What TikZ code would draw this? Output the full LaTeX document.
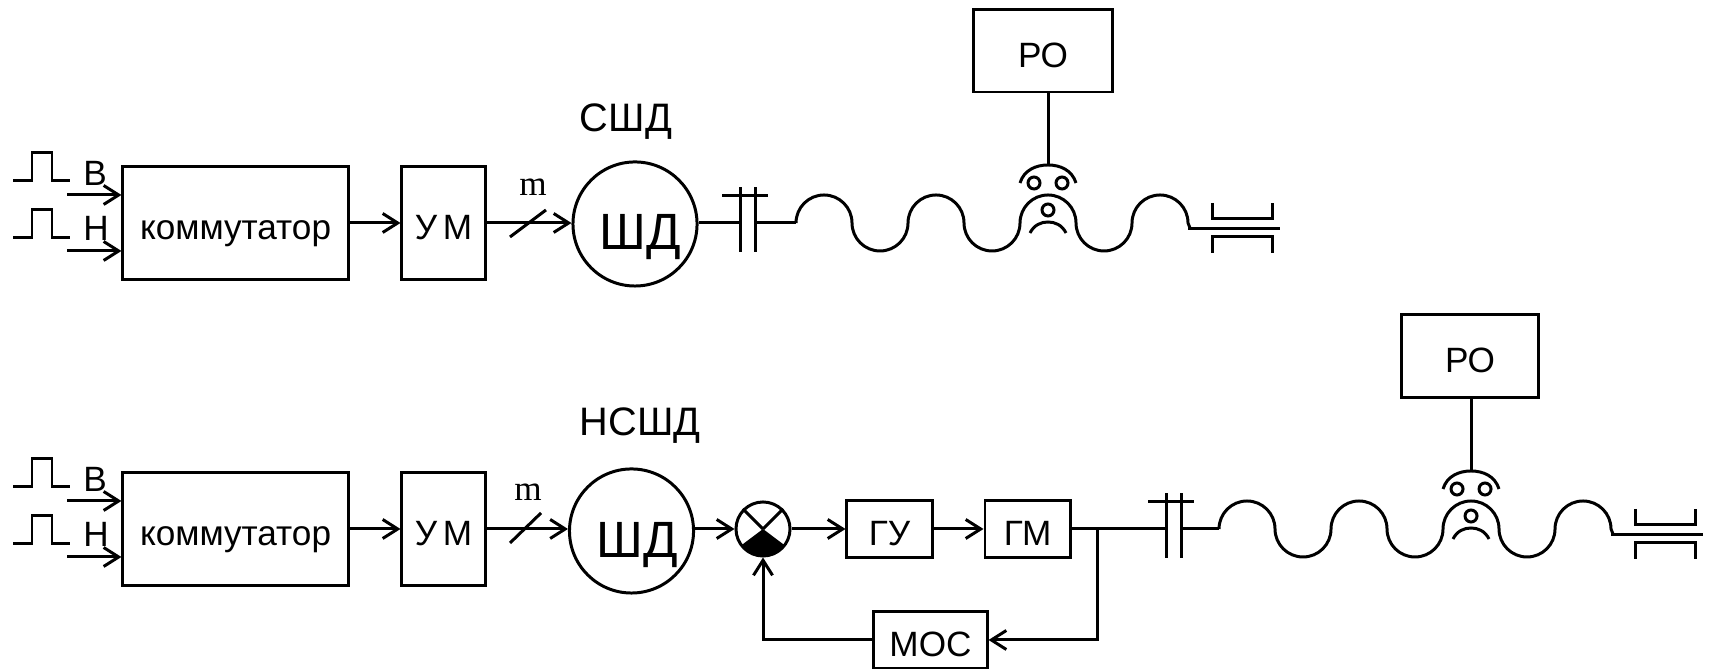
\documentclass[tikz,border=0pt]{standalone}
\usepackage{fontspec}
\setmainfont{Liberation Sans}
\newfontfamily\seriffont{Liberation Serif}
\usepackage{tikz}
\usetikzlibrary{arrows.meta, calc}

\begin{document}
\begin{tikzpicture}[x=0.01cm, y=0.01cm, line width=0.85pt,
      block/.style={rectangle, draw, inner sep=0pt, minimum width=#1, text height=0.33cm, text depth=0pt},
      tall/.style={block=#1, minimum height=1.12cm},
      small/.style={block=#1, minimum height=0.57cm},
      motor/.style={circle, draw, inner sep=0pt, minimum size=1.24cm, text height=0.52cm, text depth=0pt,
        font=\fontsize{14.5}{18}\selectfont},
      head/.style={font=\fontsize{11.3}{14}\selectfont},
      arr/.style={-{Straight Barb[length=1.5mm, width=1.9mm, line width=0.85pt]}},
      pulse/.pic={\draw (0,0) -- (19,0) -- (19,28) -- (39,28) -- (39,0) -- (57,0);},
      clutch/.pic={
        \coordinate (-in) at (0,0);
        \coordinate (-out) at (15,0);
        \draw (0,-29) -- (0,36);
        \draw (15,-29) -- (15,36);
        \draw (-18,27) -- (28,27);
      },
      screw/.pic={
        \coordinate (-in) at (0,0);
        \coordinate (-nut) at (252,58);
        % Screw thread
        \draw (0,0) \foreach \i in {1,2,3} {
          arc[start angle=180, end angle=0, radius=28]
          arc[start angle=180, end angle=360, radius=28]}
          arc[start angle=180, end angle=0, radius=28] -- ++(2,-5);
        % Nut
        \draw (224,40) .. controls (228,53) and (240,58) .. (252,58)
          .. controls (264,58) and (276,53) .. (280,40);
        \draw (234,-10) .. controls (238,-2) and (245,1) .. (252,1)
          .. controls (259,1) and (266,-2) .. (270,-10);
        \draw (238,40) circle[radius=6];
        \draw (266,40) circle[radius=6];
        \draw (252,13) circle[radius=6];
        % Bearing
        \draw (392,-6) -- (484,-6);
        \draw (416,20) -- (416,4) -- (476,4) -- (476,20);
        \draw (416,-30) -- (416,-14) -- (476,-14) -- (476,-30);
      }]
      \useasboundingbox (0,0) rectangle (1713,671);

      % Upper drive
      \pic at (13,490) {pulse};
      \pic at (13,433) {pulse};
      \node (b1) at (95,498) {В};
      \node (h1) at (96,443) {Н};
      \node[tall=2.25cm] (kom1) at (235.5,448) {коммутатор};
      \node[tall=0.83cm] (um1) at (443.5,448) {У\,М};
      \node[motor] (sd1) at (635,447) {\hspace{0.11cm}ШД};
      \node[head] (ssd) at (626,549) {СШД};
      \node[font=\seriffont] (m1) at (533,484) {m};
      \node[block=1.39cm, minimum height=0.82cm] (ro1) at (1043,620) {РО};
      \coordinate (in1a) at (67,476);
      \coordinate (in1b) at (67,420);
      \coordinate (sl1a) at (510,434);
      \coordinate (sl1b) at (546,461);
      \pic (cl1) at (740,448) {clutch};
      \pic (sc1) at (796,448) {screw};

      \draw[arr] (in1a) -- (kom1.west |- in1a);
      \draw[arr] (in1b) -- (kom1.west |- in1b);
      \draw[arr] (kom1) -- (um1);
      \draw[arr] (um1) -- (sd1.west |- um1);
      \draw (sl1a) -- (sl1b);
      \draw (sd1.east |- cl1-in) -- (cl1-in);
      \draw (cl1-out) -- (sc1-in);
      \draw (sc1-nut |- ro1.south) -- (sc1-nut);

      % Lower drive
      \pic at (13,184) {pulse};
      \pic at (13,127) {pulse};
      \node (b2) at (95,192) {В};
      \node (h2) at (96,137) {Н};
      \node[tall=2.25cm] (kom2) at (235.5,142) {коммутатор};
      \node[tall=0.83cm] (um2) at (443.5,142) {У\,М};
      \node[motor] (sd2) at (631.5,140) {\hspace{0.11cm}ШД};
      \node[head] (nsd) at (640,245) {НСШД};
      \node[font=\seriffont] (m2) at (528,179) {m};
      \node[circle, draw, inner sep=0pt, minimum size=0.54cm] (sum) at (763,142) {};
      \node[small=0.85cm] (gu) at (889.5,142) {ГУ};
      \node[small=0.85cm] (gm) at (1027.5,142) {ГМ};
      \node[block=1.13cm, minimum height=0.56cm] (mos) at (930.5,31) {МОС};
      \node[block=1.37cm, minimum height=0.82cm] (ro2) at (1470,315) {РО};
      \coordinate (in2a) at (67,170);
      \coordinate (in2b) at (67,114);
      \coordinate (sl2a) at (510,128);
      \coordinate (sl2b) at (541,158);
      \coordinate (tap) at (1097,142);
      \pic (cl2) at (1166,142) {clutch};
      \pic (sc2) at (1219,142) {screw};

      % Sum point
      \fill (sum.center) -- ++(217:27) arc[start angle=217, end angle=323, radius=27] -- cycle;
      \draw (sum.center) -- (sum.45);
      \draw (sum.center) -- (sum.135);

      \draw[arr] (in2a) -- (kom2.west |- in2a);
      \draw[arr] (in2b) -- (kom2.west |- in2b);
      \draw[arr] (kom2) -- (um2);
      \draw[arr] (um2) -- (sd2.west |- um2);
      \draw (sl2a) -- (sl2b);
      \draw[arr] (sd2.east |- sum) -- (sum);
      \draw[arr] (sum) -- (gu);
      \draw[arr] (gu) -- (gm);
      \draw (gm) -- (cl2-in);
      \draw (cl2-out) -- (sc2-in);
      \draw[arr] (tap) |- (mos);
      \draw[arr] (mos) -| (sum);
      \draw (sc2-nut |- ro2.south) -- (sc2-nut);
    \end{tikzpicture}
\end{document}
